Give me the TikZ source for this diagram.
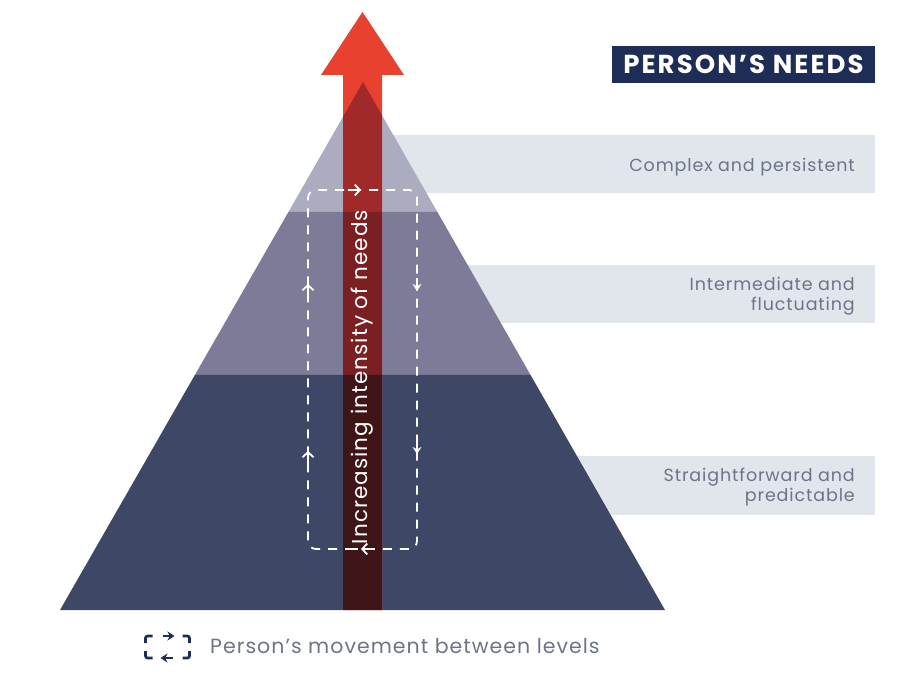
\documentclass[tikz,border=0pt]{standalone}
\usepackage{fontspec}
\setmainfont{Poppins}[LetterSpace=5]
\usepackage{tikz}
\usetikzlibrary{arrows.meta,calc,positioning}
\definecolor{NeedNavy}{HTML}{1E2D55}
\definecolor{NeedMist}{HTML}{E1E5EC}
\definecolor{NeedGrey}{HTML}{6E7488}
\definecolor{NeedTop}{HTML}{ACACC1}
\definecolor{NeedMid}{HTML}{7D7B98}
\definecolor{NeedBase}{HTML}{3F4766}
\definecolor{NeedRed}{HTML}{E8412F}
\definecolor{NeedRedTop}{HTML}{A02A2A}
\definecolor{NeedRedMid}{HTML}{7A1F22}
\definecolor{NeedRedBase}{HTML}{3F1518}

\begin{document}
\begin{tikzpicture}[x=1pt,y=-1pt,
  lvltext/.style={text=NeedGrey,font=\fontsize{17.5}{20}\selectfont,align=right,anchor=east,inner sep=0pt},
  loopline/.style={white,line width=1.8pt,dash pattern=on 9pt off 8pt},
  looptip/.style={white,line width=1.8pt,-{Straight Barb[length=5pt,width=11pt]}}]
\useasboundingbox (0,0) rectangle (904,676);
% level boxes behind the pyramid
\fill[NeedMist] (370,135) rectangle (875,193);
\fill[NeedMist] (370,265) rectangle (875,323);
\fill[NeedMist] (370,456) rectangle (875,515);
% pyramid
\coordinate (apex) at (363,82);\coordinate (bl) at (60,610);\coordinate (br) at (665,610);
\coordinate (l1) at ($(apex)!.2462!(bl)$);\coordinate (r1) at ($(apex)!.2462!(br)$);
\coordinate (l2) at ($(apex)!.5549!(bl)$);\coordinate (r2) at ($(apex)!.5549!(br)$);
\fill[NeedTop] (apex)--(l1)--(r1)--cycle;
\fill[NeedMid] (l1)--(l2)--(r2)--(r1)--cycle;
\fill[NeedBase] (l2)--(bl)--(br)--(r2)--cycle;
% red arrow
\fill[NeedRed] (343,610)--(343,75)--(321,75)--(362.5,12)--(404,75)--(382,75)--(382,610)--cycle;
\begin{scope}\clip (apex)--(l1)--(r1)--cycle;\fill[NeedRedTop] (343,0) rectangle (382,610);\end{scope}
\begin{scope}\clip (l1)--(l2)--(r2)--(r1)--cycle;\fill[NeedRedMid] (343,0) rectangle (382,610);\end{scope}
\begin{scope}\clip (l2)--(bl)--(br)--(r2)--cycle;\fill[NeedRedBase] (343,0) rectangle (382,610);\end{scope}
% movement loop
\draw[loopline,rounded corners=8pt] (362,549)--(308,549)--(308,190)--(417,190)--(417,549)--cycle;
\draw[looptip] (348,190)--(361,190);
\draw[looptip,-{Stealth[length=7pt,width=9pt]}] (417,278)--(417,291);
\draw[looptip,-{Stealth[length=7pt,width=9pt]}] (417,441)--(417,454);
\draw[looptip] (374,549)--(361,549);
\draw[looptip] (308,464)--(308,451);\draw[looptip] (308,297)--(308,284);
\node[rotate=90,text=white,font=\fontsize{21.5}{24}\selectfont,inner sep=0pt] (intensity) at (362,377) {Increasing intensity of needs};
% labels
\node[fill=NeedNavy,text=white,minimum width=263pt,minimum height=37pt,inner sep=0pt,font=\fontsize{26}{28}\selectfont\bfseries\addfontfeatures{LetterSpace=8}] (title) at (743.5,64.5) {PERSON’S NEEDS};
\node[lvltext] (complex) at (855,167) {Complex and persistent};
\node[lvltext] (intermediate) at (855,296) {Intermediate and\\fluctuating};
\node[lvltext] (straight) at (855,487) {Straightforward and\\predictable};
% legend
\coordinate (icon) at (167.5,647);
\begin{scope}[NeedNavy,line width=2.6pt,rounded corners=2pt]
\draw ($(icon)+(-15,-11)$)--($(icon)+(-22,-11)$)--($(icon)+(-22,-4)$);
\draw ($(icon)+(-22,4)$)--($(icon)+(-22,11)$)--($(icon)+(-15,11)$);
\draw ($(icon)+(15,-11)$)--($(icon)+(22,-11)$)--($(icon)+(22,-4)$);
\draw ($(icon)+(22,4)$)--($(icon)+(22,11)$)--($(icon)+(15,11)$);
\end{scope}
\draw[NeedNavy,line width=2.6pt,-{Stealth[length=7pt,width=9pt]}] ($(icon)+(-5,-11)$)--($(icon)+(7,-11)$);
\draw[NeedNavy,line width=2.6pt,-{Stealth[length=7pt,width=9pt]}] ($(icon)+(5,11)$)--($(icon)+(-7,11)$);
\node[anchor=west,text=NeedGrey,font=\fontsize{20.5}{22}\selectfont,inner sep=0pt] (legend) at (210,646) {Person’s movement between levels};
\end{tikzpicture}
\end{document}
